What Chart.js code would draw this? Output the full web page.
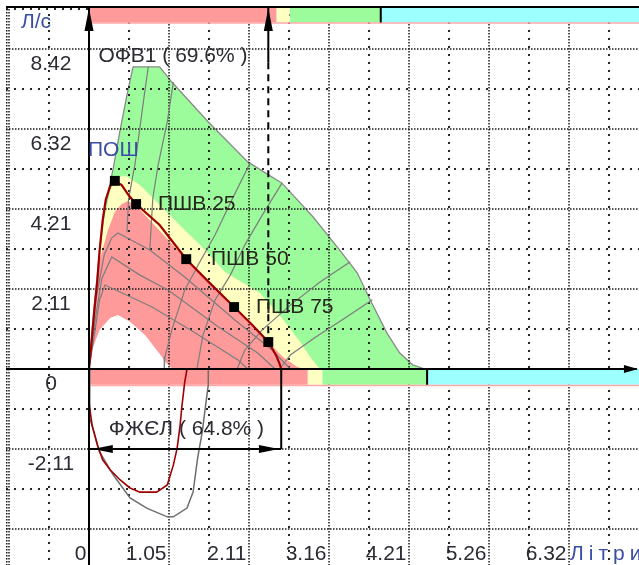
<!DOCTYPE html>
<html><head><meta charset="utf-8">
<script src="https://cdn.jsdelivr.net/npm/chart.js@4/dist/chart.umd.min.js"></script>
<style>html,body{margin:0;padding:0;background:#fff;overflow:hidden}</style>
</head><body><canvas id="c" width="639" height="565"></canvas>
<script>
// ---------- axes ----------
const X_MIN = -1.0925, X_MAX = 7.239;
const Y_MIN = -5.157, Y_MAX = 9.551;
const xTickValues = [0, 1.053, 2.106, 3.159, 4.212, 5.265, 6.318];
const xTickLabels = ['0', '1.05', '2.11', '3.16', '4.21', '5.26', '6.32'];
const xGridStep = 0.5265;
const yTickValues = [-2.105, 0, 2.105, 4.21, 6.315, 8.42];
const yTickLabels = ['-2.11', '0', '2.11', '4.21', '6.32', '8.42'];
const yGridStep = 1.0525;

// ---------- norm zones (litres) ----------
const fev1Zones = [0, 2.47, 2.64, 3.84, 7.239];
const fvcZones = [0, 2.88, 3.07, 4.45, 7.239];
const zoneColors = ['#ff9a9a', '#ffffc2', '#9cfc9c', '#9effff'];

// ---------- predicted areas (x: litres, y: l/s) ----------
const greenArea = [[0,0],[0.04,1.03],[0.09,2.08],[0.14,3.13],[0.21,4.24],[0.32,5.29],[0.41,6.29],[0.50,7.21],[0.58,7.95],[0.93,7.95],[1.09,7.55],[1.57,6.50],[2.09,5.45],[2.54,4.89],[2.95,4.00],[3.30,3.13],[3.53,2.53],[3.70,1.82],[3.92,0.95],[4.09,0.42],[4.26,0.11],[4.42,0]];
const yellowArea = [[0,0],[0.05,1.29],[0.12,2.60],[0.20,3.92],[0.28,4.71],[0.38,5.05],[0.49,5.08],[0.67,4.84],[0.93,4.32],[1.26,3.66],[1.49,3.21],[1.79,2.55],[2.25,2.00],[2.54,1.34],[2.78,0.71],[2.94,0.24],[3.04,0]];
const redArea = [[0,0],[0.08,1.82],[0.14,2.87],[0.25,3.66],[0.34,4.13],[0.43,4.34],[0.51,4.42],[0.61,4.32],[1.29,2.87],[1.90,1.63],[2.36,0.71],[2.55,0.32],[2.74,0.05],[2.84,0]];
const whiteArea = [[0,0],[0.04,0.50],[0.14,1.03],[0.28,1.34],[0.38,1.42],[0.54,1.24],[0.74,0.89],[0.91,0.45],[1.03,0.13],[1.10,0]];

// ---------- isopleth mesh ----------
const isoR1 = [[0,0],[0.09,1.82],[0.20,3.00],[0.30,3.45],[0.38,3.58],[0.80,3.13],[1.26,2.42],[1.92,1.29],[2.41,0.50],[2.65,0]];
const isoR2 = [[0,0],[0.08,1.29],[0.17,2.39],[0.30,2.95],[0.67,2.47],[1.04,2.08],[1.70,1.11],[2.22,0.42],[2.45,0]];
const isoR3 = [[0,0],[0.07,0.89],[0.14,1.82],[0.21,2.21],[0.83,1.63],[1.40,0.95],[1.96,0.24],[2.09,0]];
const fracA = [[0.78,7.95],[0.71,6.95],[0.61,5.45],[0.52,4.45],[0.50,3.60]];
const fracB = [[1.11,7.55],[1.03,6.50],[0.91,5.37],[0.84,4.50],[0.80,3.13]];
const fracC = [[2.12,5.42],[1.88,4.45],[1.66,3.53],[1.46,2.82],[1.26,2.08],[1.09,1.03],[1.00,0.32],[0.99,0]];
const fracD = [[2.54,4.89],[2.28,4.05],[2.05,3.26],[1.86,2.47],[1.66,1.82],[1.50,0.89],[1.42,0]];
const fracE = [[3.44,2.82],[3.04,2.29],[2.65,1.68],[2.28,1.03],[2.05,0.50],[1.95,0]];
const fracF = [[3.73,1.82],[3.37,1.34],[2.97,0.82],[2.65,0.37],[2.51,0]];

// ---------- patient curves ----------
const expCurve = [[0,0],[0.03,0.63],[0.07,1.55],[0.11,2.34],[0.14,3.13],[0.18,3.92],[0.22,4.45],[0.28,4.82],[0.34,4.95],[0.43,4.84],[0.53,4.55],[0.62,4.34],[0.93,3.79],[1.28,2.89],[1.59,2.26],[1.91,1.63],[2.15,1.16],[2.36,0.71],[2.46,0.37],[2.51,0.13],[2.53,0]];
const inspCurve = [[0,0],[0,-0.89],[0.04,-1.47],[0.11,-2.00],[0.18,-2.39],[0.28,-2.66],[0.41,-2.92],[0.54,-3.13],[0.67,-3.24],[0.89,-3.24],[1.03,-3.05],[1.11,-2.53],[1.16,-2.08],[1.20,-1.47],[1.22,-1.03],[1.26,-0.34],[1.29,0]];
const inspPredicted = [[0,0],[0.01,-1.29],[0.14,-2.18],[0.32,-2.79],[0.54,-3.39],[0.76,-3.66],[1.03,-3.89],[1.11,-3.89],[1.29,-3.66],[1.37,-3.24],[1.43,-2.34],[1.49,-1.66],[1.53,-1.03],[1.57,-0.42],[1.57,0]];

// ---------- key points ----------
const markerNames = ['ПОШ', 'ПШВ 25', 'ПШВ 50', 'ПШВ 75', 'ОФВ1'];
const markerPoints = [[0.34,4.95],[0.62,4.34],[1.28,2.89],[1.91,1.63],[2.36,0.71]];
const FEV1 = 2.36, FVC = 2.53;
const fev1Pct = '69.6%', fvcPct = '64.8%';

// ---------- styling / layout ----------
const FONT = '21px "Liberation Sans", Arial, sans-serif';
const BLUE = '#3a4ea6', DARK = '#2b2b33';
const BAND_TOP = [9.53, 9.115], BAND_BOT = [0, -0.415];
const pts = a => a.map(([x, y]) => ({x, y}));

const datasets = [];
const line = (data, color, width, order, extra) => datasets.push(Object.assign({
  data: pts(data), borderColor: color, borderWidth: width, pointRadius: 0, fill: false, order
}, extra || {}));

line(greenArea, '#8a8a8a', 1.3, 100, {fill: 'origin', backgroundColor: '#9cfc9c'});
line(yellowArea, 'rgba(0,0,0,0)', 0, 99, {fill: 'origin', backgroundColor: '#ffffc2'});
line(redArea, 'rgba(0,0,0,0)', 0, 98, {fill: 'origin', backgroundColor: '#ff9a9a'});
line(whiteArea, 'rgba(0,0,0,0)', 0, 97, {fill: 'origin', backgroundColor: '#ffffff', gridAfter: true});
// zone bands
for (let i = 0; i < 4; i++) {
  line([[fev1Zones[i], BAND_TOP[0]], [fev1Zones[i+1], BAND_TOP[0]]], 'rgba(0,0,0,0)', 0, 90, {fill: {value: BAND_TOP[1]}, backgroundColor: zoneColors[i]});
  line([[fvcZones[i], BAND_BOT[0]], [fvcZones[i+1], BAND_BOT[0]]], 'rgba(0,0,0,0)', 0, 90, {fill: {value: BAND_BOT[1]}, backgroundColor: zoneColors[i]});
}
line([[0, BAND_TOP[1]-0.01], [X_MAX, BAND_TOP[1]-0.01]], '#ffa8a8', 1.5, 89);
line([[0, BAND_BOT[1]-0.02], [X_MAX, BAND_BOT[1]-0.02]], '#ffa8a8', 1.5, 89);
line([[fev1Zones[3], BAND_TOP[0]], [fev1Zones[3], BAND_TOP[1]]], '#000', 2, 88);
line([[fvcZones[3], BAND_BOT[0]], [fvcZones[3], BAND_BOT[1]]], '#000', 2, 88);
// mesh
[isoR1, isoR2, isoR3, fracA, fracB, fracC, fracD, fracE, fracF].forEach(a => line(a, '#7d7d7d', 1.2, 80));
// curves
line(inspPredicted, '#6e6e6e', 1.5, 79);
line(inspCurve, '#a00000', 1.6, 78);
line(expCurve, '#a00000', 2.2, 77);
// FEV1 / FVC dimension lines
line([[FEV1, 9.5], [FEV1, 8.07]], '#000', 2, 70);
line([[FEV1, 8.07], markerPoints[4]], '#000', 2, 70, {borderDash: [7, 5]});
line([[FVC, 0], [FVC, -2.105]], '#000', 2, 70);
line([[0, -2.105], [FVC, -2.105]], '#000', 2, 70);
// axes
line([[0, Y_MIN], [0, 9.5]], '#000', 2, 69);
line([[X_MIN, 0], [7.21, 0]], '#000', 2, 69);
// markers
datasets.push({data: pts(markerPoints), showLine: false, pointStyle: 'rect', pointRadius: 7,
  pointBackgroundColor: '#000', pointBorderColor: '#000', borderWidth: 0, order: 60});

const arrows = [
  {x: 0, y: 9.50, dir: 'up', len: 23, half: 4.5},
  {x: FEV1, y: 9.50, dir: 'up', len: 23, half: 4.5},
  {x: 7.225, y: 0, dir: 'right', len: 14, half: 4},
  {x: 0.05, y: -2.105, dir: 'left', len: 20, half: 4},
  {x: FVC - 0.03, y: -2.105, dir: 'right', len: 20, half: 4}
];
const texts = [
  {t: 'Л/с', x: -0.895, y: 8.972, align: 'left', color: BLUE},
  {t: 'ОФВ1 ( ' + fev1Pct + ' )', x: 1.106, y: 8.078, align: 'center', color: DARK},
  {t: 'ФЖЄЛ ( ' + fvcPct + ' )', x: 1.283, y: -1.737, align: 'center', color: DARK},
  {t: markerNames[0], x: -0.013, y: 5.604, align: 'left', color: BLUE},
  {t: markerNames[1], x: 0.908, y: 4.184, align: 'left', color: '#26261c'},
  {t: markerNames[2], x: 1.606, y: 2.736, align: 'left', color: '#26261c'},
  {t: markerNames[3], x: 2.198, y: 1.473, align: 'left', color: '#26261c'},
  {t: 'Літри', x: 6.331, y: -5.026, align: 'left', color: BLUE, spacing: 5}
];

function dotted(ctx, x1, y1, x2, y2, major) {
  ctx.beginPath();
  ctx.setLineDash(major ? [1.5, 1.5] : [2, 6]);
  ctx.lineWidth = major ? 1.5 : 2;
  ctx.strokeStyle = major ? '#1a1a1a' : '#262626';
  ctx.moveTo(x1, y1); ctx.lineTo(x2, y2); ctx.stroke();
}
function drawGrid(chart) {
  const {ctx, chartArea: a, scales: {x, y}} = chart;
  ctx.save();
  for (let k = Math.ceil(X_MIN / xGridStep); k <= Math.floor(X_MAX / xGridStep); k++) {
    if (k === 0) continue;
    const px = x.getPixelForValue(k * xGridStep);
    dotted(ctx, px, a.top, px, a.bottom, k % 2 === 0);
  }
  for (let k = Math.ceil(Y_MIN / yGridStep); k <= Math.floor(Y_MAX / yGridStep); k++) {
    if (k === 0) continue;
    const py = y.getPixelForValue(k * yGridStep);
    dotted(ctx, a.left, py, a.right, py, k % 2 === 0);
  }
  dotted(ctx, a.left + 0.75, a.top, a.left + 0.75, a.bottom, true);
  ctx.restore();
}
function drawText(ctx, s, px, py, align, spacing) {
  if (!spacing) { ctx.textAlign = align; ctx.fillText(s, px, py); return; }
  ctx.textAlign = 'left';
  let cx = px;
  for (const ch of s) { ctx.fillText(ch, cx, py); cx += ctx.measureText(ch).width + spacing; }
}
const overlay = {
  id: 'overlay',
  afterDatasetDraw(chart, args) {
    if (chart.data.datasets[args.index].gridAfter) drawGrid(chart);
  },
  afterDatasetsDraw(chart) {
    const {ctx, chartArea: a, scales: {x, y}} = chart;
    ctx.save();
    ctx.fillStyle = '#000';
    ctx.fillRect(a.left, a.top, a.right - a.left, 2);
    arrows.forEach(ar => {
      const px = x.getPixelForValue(ar.x), py = y.getPixelForValue(ar.y);
      ctx.beginPath();
      if (ar.dir === 'up') { ctx.moveTo(px, py); ctx.lineTo(px - ar.half, py + ar.len); ctx.lineTo(px + ar.half, py + ar.len); }
      if (ar.dir === 'right') { ctx.moveTo(px, py); ctx.lineTo(px - ar.len, py - ar.half); ctx.lineTo(px - ar.len, py + ar.half); }
      if (ar.dir === 'left') { ctx.moveTo(px, py); ctx.lineTo(px + ar.len, py - ar.half); ctx.lineTo(px + ar.len, py + ar.half); }
      ctx.closePath(); ctx.fill();
    });
    ctx.font = FONT;
    ctx.textBaseline = 'alphabetic';
    ctx.fillStyle = DARK;
    yTickValues.forEach((v, i) => {
      drawText(ctx, yTickLabels[i], x.getPixelForValue(-0.5265) + 2, y.getPixelForValue(v) + 21, 'center');
    });
    xTickValues.forEach((v, i) => {
      drawText(ctx, xTickLabels[i], x.getPixelForValue(v) - 2.5, y.getPixelForValue(-5.026), 'right');
    });
    texts.forEach(t => {
      ctx.fillStyle = t.color;
      drawText(ctx, t.t, x.getPixelForValue(t.x), y.getPixelForValue(t.y), t.align, t.spacing);
    });
    ctx.restore();
  }
};

new Chart(document.getElementById('c'), {
  type: 'line',
  data: {datasets},
  options: {
    responsive: false, animation: false, devicePixelRatio: 1, events: [],
    layout: {autoPadding: false, padding: {left: 6, top: 6, right: 0, bottom: 0}},
    plugins: {legend: {display: false}, tooltip: {enabled: false}},
    elements: {line: {tension: 0}},
    scales: {
      x: {type: 'linear', min: X_MIN, max: X_MAX, display: false},
      y: {type: 'linear', min: Y_MIN, max: Y_MAX, display: false}
    }
  },
  plugins: [overlay]
});
</script></body></html>
